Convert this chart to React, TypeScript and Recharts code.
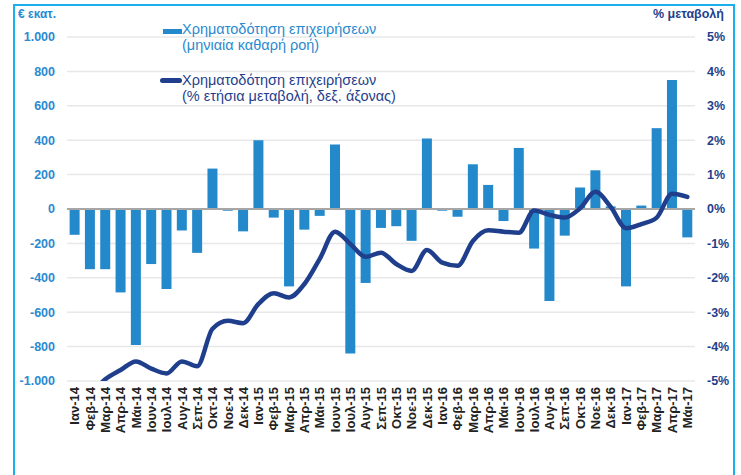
import { ComposedChart, Bar, Line, XAxis, YAxis, CartesianGrid, ReferenceLine, Legend } from "recharts";

const months = [
  "Ιαν-14", "Φεβ-14", "Μαρ-14", "Απρ-14", "Μάι-14", "Ιουν-14", "Ιουλ-14", "Αυγ-14", "Σεπ-14", "Οκτ-14", "Νοε-14", "Δεκ-14",
  "Ιαν-15", "Φεβ-15", "Μαρ-15", "Απρ-15", "Μάι-15", "Ιουν-15", "Ιουλ-15", "Αυγ-15", "Σεπ-15", "Οκτ-15", "Νοε-15", "Δεκ-15",
  "Ιαν-16", "Φεβ-16", "Μαρ-16", "Απρ-16", "Μάι-16", "Ιουν-16", "Ιουλ-16", "Αυγ-16", "Σεπ-16", "Οκτ-16", "Νοε-16", "Δεκ-16",
  "Ιαν-17", "Φεβ-17", "Μαρ-17", "Απρ-17", "Μάι-17",
];

// € εκατ., μηνιαία καθαρή ροή
const monthlyFlow = [
  -150, -350, -350, -485, -790, -320, -465, -125, -255, 235, -10, -130,
  400, -50, -450, -120, -40, 375, -840, -430, -110, -100, -185, 410,
  -10, -45, 260, 140, -70, 355, -230, -535, -155, 125, 225, 15,
  -450, 20, 470, 750, -165,
];

// % ετήσια μεταβολή
const annualChange = [
  -5.8, -5.4, -4.95, -4.68, -4.43, -4.64, -4.78, -4.43, -4.57, -3.48, -3.25, -3.32,
  -2.76, -2.45, -2.57, -2.18, -1.45, -0.66, -1.02, -1.39, -1.27, -1.6, -1.8, -1.19,
  -1.56, -1.65, -0.93, -0.62, -0.66, -0.69, -0.04, -0.17, -0.25, 0.02, 0.5, 0.06,
  -0.56, -0.44, -0.25, 0.44, 0.35,
];

const leftTicks = [-1000, -800, -600, -400, -200, 0, 200, 400, 600, 800, 1000];
const rightTicks = [-5, -4, -3, -2, -1, 0, 1, 2, 3, 4, 5];

const data = months.map((m, i) => ({ month: m, flow: monthlyFlow[i], change: annualChange[i] }));

const BLUE = "#2389cb";
const LABEL_BLUE = "#2a8ad0";
const NAVY = "#1f3f8c";
const FONT = "Arial, 'Liberation Sans', sans-serif";

const fmtThousands = (v: number) => {
  const s = Math.abs(v).toString().replace(/\B(?=(\d{3})+(?!\d))/g, ".");
  return v < 0 ? "-" + s : s;
};

function MonthTick({ x, y, payload }: any) {
  return (
    <text
      x={x}
      y={y}
      dy="0.36em"
      transform={`rotate(-90, ${x}, ${y})`}
      textAnchor="end"
      fontFamily={FONT}
      fontSize={13}
      fontWeight="bold"
      fill="#222"
    >
      {payload.value}
    </text>
  );
}

function LegendBox() {
  const text = { fontFamily: FONT, fontSize: 14.5, lineHeight: "16px", whiteSpace: "nowrap" as const };
  return (
    <div style={{ position: "relative", width: 300, height: 90 }}>
      <div style={{ position: "absolute", left: 3, top: 9, width: 19, height: 5, background: BLUE }} />
      <div style={{ ...text, position: "absolute", left: 22, top: 1, color: LABEL_BLUE }}>
        Χρηματοδότηση επιχειρήσεων
        <br />
        (μηνιαία καθαρή ροή)
      </div>
      <div style={{ position: "absolute", left: 0, top: 58, width: 22, height: 5, borderRadius: 3, background: NAVY }} />
      <div style={{ ...text, position: "absolute", left: 22, top: 52, color: NAVY }}>
        Χρηματοδότηση επιχειρήσεων
        <br />
        (% ετήσια μεταβολή, δεξ. άξονας)
      </div>
    </div>
  );
}

export default function App() {
  return (
    <div style={{ position: "absolute", left: 0, top: 0, width: 741, height: 475, overflow: "hidden", background: "#fff" }}>
      <div
        style={{
          position: "absolute",
          left: 13,
          top: 4,
          width: 718,
          height: 520,
          border: "2px solid #1ab0ee",
        }}
      />
      <div style={{ position: "absolute", left: 18, top: 7, fontFamily: FONT, fontSize: 12, fontWeight: "bold", color: LABEL_BLUE }}>
        € εκατ.
      </div>
      <div style={{ position: "absolute", left: 653, top: 7, fontFamily: FONT, fontSize: 12.5, fontWeight: "bold", color: NAVY }}>
        % μεταβολή
      </div>
      <ComposedChart
        width={741}
        height={475}
        data={data}
        margin={{ top: 37, right: 0, left: 0, bottom: 0 }}
        barCategoryGap="17%"
        style={{ position: "absolute", left: 0, top: 0 }}
      >
        <CartesianGrid yAxisId="left" vertical={false} stroke="#e8e8e8" strokeWidth={1.5} />
        <XAxis
          dataKey="month"
          interval={0}
          height={94}
          axisLine={false}
          tickLine={false}
          tickSize={0}
          tickMargin={6}
          tick={<MonthTick />}
        />
        <YAxis
          yAxisId="left"
          width={67}
          domain={[-1000, 1000]}
          ticks={leftTicks}
          axisLine={false}
          tickLine={false}
          tickSize={0}
          tickMargin={12}
          tickFormatter={fmtThousands}
          tick={{ fontFamily: FONT, fontSize: 12.5, fontWeight: "bold", fill: LABEL_BLUE }}
        />
        <YAxis
          yAxisId="right"
          orientation="right"
          width={46}
          domain={[-5, 5]}
          ticks={rightTicks}
          allowDataOverflow
          axisLine={false}
          tickLine={false}
          tickSize={0}
          tickMargin={12}
          tickFormatter={(v: number) => `${v}%`}
          tick={{ fontFamily: FONT, fontSize: 12.5, fontWeight: "bold", fill: NAVY }}
        />
        <ReferenceLine yAxisId="left" y={0} stroke="#a6a6a6" strokeWidth={2} />
        <Legend
          layout="vertical"
          align="center"
          verticalAlign="middle"
          wrapperStyle={{ left: 160, top: 20, width: 300 }}
          content={() => <LegendBox />}
        />
        <Bar yAxisId="left" dataKey="flow" name="Χρηματοδότηση επιχειρήσεων (μηνιαία καθαρή ροή)" fill={BLUE} isAnimationActive={false} />
        <Line
          yAxisId="right"
          type="monotone"
          dataKey="change"
          name="Χρηματοδότηση επιχειρήσεων (% ετήσια μεταβολή, δεξ. άξονας)"
          stroke={NAVY}
          strokeWidth={4.5}
          strokeLinecap="round"
          dot={false}
          activeDot={false}
          isAnimationActive={false}
        />
      </ComposedChart>
    </div>
  );
}
